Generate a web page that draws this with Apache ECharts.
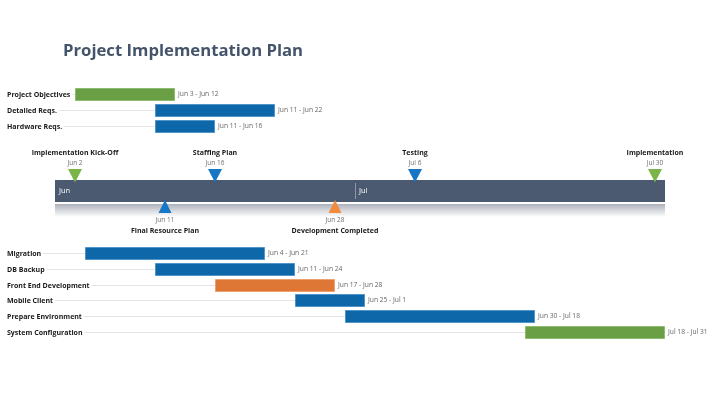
<!DOCTYPE html>
<html><head><meta charset="utf-8">
<script src="https://cdn.jsdelivr.net/npm/echarts@6/dist/echarts.min.js"></script>
<style>html,body{margin:0;padding:0;background:#fff}#c{width:720px;height:405px}</style>
</head><body><div id="c"></div>
<script>
const topTasks = ['Project Objectives', 'Detailed Reqs.', 'Hardware Reqs.'];
const topStarts = ['2024-06-03', '2024-06-11', '2024-06-11'];
const topEnds = ['2024-06-12', '2024-06-22', '2024-06-16'];
const topColors = ['green', 'blue', 'blue'];

const bottomTasks = ['Migration', 'DB Backup', 'Front End Development', 'Mobile Client', 'Prepare Environment', 'System Configuration'];
const bottomStarts = ['2024-06-04', '2024-06-11', '2024-06-17', '2024-06-25', '2024-06-30', '2024-07-18'];
const bottomEnds = ['2024-06-21', '2024-06-24', '2024-06-28', '2024-07-01', '2024-07-18', '2024-07-31'];
const bottomColors = ['blue', 'blue', 'orange', 'blue', 'blue', 'green'];

const milestoneNames = ['Implementation Kick-Off', 'Final Resource Plan', 'Staffing Plan', 'Development Completed', 'Testing', 'Implementation'];
const milestoneDates = ['2024-06-02', '2024-06-11', '2024-06-16', '2024-06-28', '2024-07-06', '2024-07-30'];
const milestoneSides = ['top', 'bottom', 'top', 'bottom', 'top', 'top'];
const milestoneColors = ['green', 'blue', 'blue', 'orange', 'blue', 'green'];

const months = ['Jun', 'Jul'];
const monthStarts = ['2024-06-01', '2024-07-01'];
const monthEnds = ['2024-06-30', '2024-07-31'];

const MON = ['Jan','Feb','Mar','Apr','May','Jun','Jul','Aug','Sep','Oct','Nov','Dec'];
function parts(s){ return s.split('-').map(Number); }
function dayStart(s){ const p = parts(s); return new Date(p[0], p[1]-1, p[2]).getTime(); }
function dayEnd(s){ const p = parts(s); return new Date(p[0], p[1]-1, p[2]+1).getTime(); }
function fmt(s){ const p = parts(s); return MON[p[1]-1] + ' ' + p[2]; }

const barColor = {green:'#6a9f46', blue:'#0d67a9', orange:'#de7736'};
const barStroke = {green:'#8fbb70', blue:'#4f95c9', orange:'#eea06e'};
const msColor = {green:'#7bb548', blue:'#1777c4', orange:'#f28b3d'};
const FONT = '"Open Sans", "Noto Sans", sans-serif';

const xMin = dayStart(monthStarts[0]);
const xMax = dayEnd(monthEnds[monthEnds.length-1]);

function taskRenderer(names, starts, ends, colors){
  return function(params, api){
    const i = params.dataIndex;
    const cs = params.coordSys;
    const p1 = api.coord([api.value(1), api.value(0)]);
    const p2 = api.coord([api.value(2), api.value(0)]);
    const y = Math.round(p1[1]);
    const labelX = cs.x - 48;
    return {type:'group', children:[
      {type:'line', shape:{x1:labelX, y1:y+0.5, x2:p1[0], y2:y+0.5}, style:{stroke:'#e4e4e4', lineWidth:1}},
      {type:'text', style:{text:names[i], x:labelX, y:y+0.5, verticalAlign:'middle', align:'left',
        font:'bold 7px ' + FONT, fill:'#1a1a1a', backgroundColor:'#fff', padding:[1,2,1,0]}},
      {type:'rect', shape:{x:p1[0]+0.5, y:y-5.5, width:p2[0]-p1[0]-1, height:12},
        style:{fill:barColor[colors[i]], stroke:barStroke[colors[i]], lineWidth:1}},
      {type:'text', style:{text:fmt(starts[i]) + ' - ' + fmt(ends[i]), x:p2[0]+3, y:y+0.5,
        verticalAlign:'middle', align:'left', font:'6.7px ' + FONT, fill:'#666666'}}
    ]};
  };
}

function monthRenderer(params, api){
  const i = params.dataIndex;
  const cs = params.coordSys;
  const a = api.coord([api.value(0), 0])[0];
  const b = api.coord([api.value(1), 0])[0];
  const top = cs.y, h = cs.height;
  const ch = [
    {type:'rect', shape:{x:a, y:top+h+2, width:b-a, height:13},
      style:{fill:new echarts.graphic.LinearGradient(0,0,0,1,[{offset:0,color:'#adb2bb'},{offset:1,color:'#ffffff'}])}},
    {type:'rect', shape:{x:a, y:top, width:b-a, height:h}, style:{fill:'#4b5971'}},
    {type:'text', style:{text:months[i], x:a+4, y:top+h/2, verticalAlign:'middle', font:'7.5px ' + FONT, fill:'#ffffff'}}
  ];
  if (i > 0) ch.push({type:'line', shape:{x1:a+0.5, y1:top+3, x2:a+0.5, y2:top+h-3}, style:{stroke:'#8c97a9', lineWidth:1}});
  return {type:'group', children:ch};
}

function milestoneRenderer(params, api){
  const i = params.dataIndex;
  const cs = params.coordSys;
  const x = api.coord([api.value(0), 0])[0];
  const col = msColor[milestoneColors[i]];
  const nameStyle = {text:milestoneNames[i], align:'center', verticalAlign:'middle', font:'bold 7px ' + FONT, fill:'#1a1a1a'};
  const dateStyle = {text:fmt(milestoneDates[i]), align:'center', verticalAlign:'middle', font:'6.5px ' + FONT, fill:'#707070'};
  if (milestoneSides[i] === 'top') {
    const t = cs.y;
    return {type:'group', children:[
      {type:'polygon', shape:{points:[[x-7, t-11],[x+7, t-11],[x, t+2.5]]}, style:{fill:col}},
      {type:'text', style:Object.assign({x:x, y:t-17}, dateStyle)},
      {type:'text', style:Object.assign({x:x, y:t-27.5}, nameStyle)}
    ]};
  } else {
    const bt = cs.y + cs.height;
    return {type:'group', children:[
      {type:'polygon', shape:{points:[[x-6.5, bt+11],[x+6.5, bt+11],[x, bt-2]]}, style:{fill:col}},
      {type:'text', style:Object.assign({x:x, y:bt+18}, dateStyle)},
      {type:'text', style:Object.assign({x:x, y:bt+28.5}, nameStyle)}
    ]};
  }
}

const chart = echarts.init(document.getElementById('c'), null, {renderer:'canvas'});
const xAx = (g) => ({type:'time', gridIndex:g, min:xMin, max:xMax, show:false});
chart.setOption({
  animation:false,
  backgroundColor:'#ffffff',
  title:{text:'Project Implementation Plan', left:58, top:38,
    textStyle:{fontSize:16.7, fontWeight:'bold', color:'#44546a', fontFamily:FONT}},
  grid:[
    {left:55, right:55, top:86, height:48},
    {left:55, right:55, top:180, height:22},
    {left:55, right:55, top:245, height:95}
  ],
  xAxis:[xAx(0), xAx(1), xAx(2)],
  yAxis:[
    {type:'category', gridIndex:0, inverse:true, data:topTasks, show:false},
    {type:'category', gridIndex:1, data:['timeline'], show:false},
    {type:'category', gridIndex:2, inverse:true, data:bottomTasks, show:false}
  ],
  series:[
    {type:'custom', xAxisIndex:0, yAxisIndex:0, renderItem:taskRenderer(topTasks, topStarts, topEnds, topColors),
      encode:{x:[1,2], y:0}, data:topTasks.map((n,i)=>[i, dayStart(topStarts[i]), dayEnd(topEnds[i])])},
    {type:'custom', xAxisIndex:1, yAxisIndex:1, renderItem:monthRenderer,
      encode:{x:[0,1]}, data:months.map((m,i)=>[dayStart(monthStarts[i]), dayEnd(monthEnds[i])])},
    {type:'custom', xAxisIndex:1, yAxisIndex:1, renderItem:milestoneRenderer,
      encode:{x:0}, data:milestoneDates.map(d=>[dayEnd(d)])},
    {type:'custom', xAxisIndex:2, yAxisIndex:2, renderItem:taskRenderer(bottomTasks, bottomStarts, bottomEnds, bottomColors),
      encode:{x:[1,2], y:0}, data:bottomTasks.map((n,i)=>[i, dayStart(bottomStarts[i]), dayEnd(bottomEnds[i])])}
  ]
});
</script></body></html>
